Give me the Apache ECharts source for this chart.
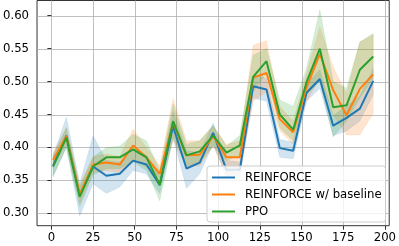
<!DOCTYPE html>
<html>
<head>
<meta charset="utf-8">
<script src="https://cdn.jsdelivr.net/npm/echarts@6/dist/echarts.min.js"></script>
<style>html,body{margin:0;padding:0;background:#fff}#c{width:399px;height:246px}</style>
</head>
<body>
<div id="c"></div>
<script>
var steps = [1,9,17,25,33,41,49,57,65,73,81,89,97,105,113,121,129,137,145,153,161,169,177,185,193];
var xTicks = [0,25,50,75,100,125,150,175,200];
var yTicks = [0.30,0.35,0.40,0.45,0.50,0.55,0.60];

var reinforceMean  = [0.372,0.418,0.327,0.371,0.357,0.360,0.380,0.374,0.343,0.432,0.368,0.377,0.422,0.366,0.366,0.493,0.488,0.399,0.395,0.483,0.504,0.433,0.445,0.459,0.501];
var reinforceLower = [0.357,0.400,0.296,0.345,0.330,0.340,0.365,0.360,0.330,0.415,0.338,0.360,0.405,0.355,0.355,0.475,0.470,0.385,0.383,0.470,0.490,0.418,0.425,0.440,0.480];
var reinforceUpper = [0.387,0.446,0.345,0.418,0.380,0.378,0.395,0.388,0.356,0.455,0.395,0.392,0.437,0.380,0.378,0.510,0.505,0.412,0.408,0.496,0.518,0.448,0.463,0.478,0.520];

var baselineMean  = [0.381,0.417,0.329,0.374,0.377,0.374,0.403,0.385,0.360,0.438,0.388,0.389,0.417,0.385,0.385,0.506,0.513,0.443,0.423,0.491,0.542,0.487,0.449,0.489,0.511];
var baselineLower = [0.370,0.405,0.315,0.362,0.365,0.362,0.382,0.370,0.345,0.410,0.372,0.372,0.402,0.360,0.360,0.470,0.485,0.425,0.405,0.470,0.505,0.450,0.419,0.419,0.452];
var baselineUpper = [0.392,0.430,0.343,0.386,0.390,0.386,0.428,0.400,0.372,0.474,0.410,0.410,0.432,0.405,0.410,0.555,0.562,0.462,0.440,0.512,0.583,0.522,0.482,0.560,0.571];

var ppoMean  = [0.371,0.415,0.325,0.371,0.385,0.385,0.397,0.385,0.343,0.440,0.388,0.394,0.418,0.392,0.403,0.507,0.531,0.450,0.427,0.499,0.550,0.461,0.464,0.518,0.538];
var ppoLower = [0.355,0.400,0.310,0.358,0.368,0.368,0.378,0.365,0.319,0.415,0.372,0.378,0.402,0.380,0.388,0.485,0.512,0.430,0.410,0.480,0.500,0.416,0.440,0.475,0.505];
var ppoUpper = [0.387,0.430,0.340,0.385,0.400,0.402,0.420,0.410,0.365,0.466,0.405,0.410,0.434,0.402,0.418,0.540,0.550,0.472,0.462,0.520,0.609,0.500,0.490,0.560,0.573];

var names = ['REINFORCE','REINFORCE w/ baseline','PPO'];
var colors = ['#1f77b4','#ff7f0e','#2ca02c'];
var groups = [
  [reinforceMean, reinforceLower, reinforceUpper],
  [baselineMean, baselineLower, baselineUpper],
  [ppoMean, ppoLower, ppoUpper]
];

var X_MIN = -8.6, X_MAX = 202.6, Y_MIN = 0.2812, Y_MAX = 0.6231;

function pairs(arr){ return steps.map(function(s,i){ return [s, arr[i]]; }); }

var FONT = "'DejaVu Sans', sans-serif";
var FS = 11.7;
var series = [];
var gridStyle = { stroke:'#b0b0b0', lineWidth:0.8 };
// vertical grid lines
series.push({
  type:'custom', silent:true, z:0, animation:false,
  data: xTicks.map(function(v){ return [v, Y_MIN]; }),
  encode:{x:0, y:1},
  renderItem: function(params, api){
    var v = api.value(0);
    var a = api.coord([v, Y_MIN]), b = api.coord([v, Y_MAX]);
    return { type:'line', shape:{x1:Math.round(a[0])+0.5, y1:a[1], x2:Math.round(b[0])+0.5, y2:b[1]}, style: gridStyle };
  }
});
// horizontal grid lines
series.push({
  type:'custom', silent:true, z:0, animation:false,
  data: yTicks.map(function(v){ return [X_MIN, v]; }),
  encode:{x:0, y:1},
  renderItem: function(params, api){
    var v = api.value(1);
    var a = api.coord([X_MIN, v]), b = api.coord([X_MAX, v]);
    return { type:'line', shape:{x1:a[0], y1:Math.round(a[1])+0.5, x2:b[0], y2:Math.round(b[1])+0.5}, style: gridStyle };
  }
});
// bands as polygons between lower and upper
groups.forEach(function(g, k){
  var lo = g[1], up = g[2];
  series.push({
    type:'custom', silent:true, z:1, animation:false,
    data: steps.map(function(s,i){ return [s, lo[i], up[i]]; }),
    encode:{x:0, y:[1,2]},
    renderItem: function(params, api){
      if (params.dataIndex !== 0) return null;
      var pts = [];
      for (var i = 0; i < steps.length; i++) pts.push(api.coord([steps[i], up[i]]));
      for (var j = steps.length - 1; j >= 0; j--) pts.push(api.coord([steps[j], lo[j]]));
      return { type:'polygon', shape:{points: pts},
        style:{ fill: colors[k], opacity:0.2, stroke: colors[k], lineWidth:0.5 } };
    }
  });
});
// mean lines
groups.forEach(function(g, k){
  series.push({
    name: names[k], type:'line', data: pairs(g[0]), symbol:'none', z:3,
    lineStyle:{color: colors[k], width:2}, itemStyle:{color: colors[k]}, animation:false
  });
});

var chart = echarts.init(document.getElementById('c'), null, {renderer:'canvas'});
chart.setOption({
  animation:false,
  grid:{ left:34, right:6.5, top:0.5, bottom:20.3, show:true, borderColor:'#000', borderWidth:0.8, backgroundColor:'transparent' },
  xAxis:{ type:'value', min:X_MIN, max:X_MAX,
    axisLine:{show:false}, splitLine:{show:false},
    axisTick:{show:true, inside:false, length:4, lineStyle:{color:'#000', width:0.8}, customValues: xTicks},
    axisLabel:{ customValues: xTicks, margin:6, color:'#000', fontFamily:FONT, fontSize:FS,
      formatter:function(v){ return String(v); } }
  },
  yAxis:{ type:'value', min:Y_MIN, max:Y_MAX,
    axisLine:{show:false}, splitLine:{show:false},
    axisTick:{show:true, inside:false, length:4, lineStyle:{color:'#000', width:0.8}, customValues: yTicks},
    axisLabel:{ customValues: yTicks, margin:8, color:'#000', fontFamily:FONT, fontSize:FS,
      formatter:function(v){ return v.toFixed(2); } }
  },
  legend:{
    data: names.map(function(n){ return {name:n, icon:'rect'}; }),
    orient:'vertical', left:207, top:166,
    itemWidth:23, itemHeight:2, itemGap:4, padding:[5,4,4,5],
    backgroundColor:'rgba(255,255,255,0.8)', borderColor:'#cccccc', borderWidth:1, borderRadius:3,
    textStyle:{ color:'#000', fontFamily:FONT, fontSize:FS, lineHeight:13, padding:[0,0,0,5] },
    selectedMode:false
  },
  series: series
});
</script>
</body>
</html>
